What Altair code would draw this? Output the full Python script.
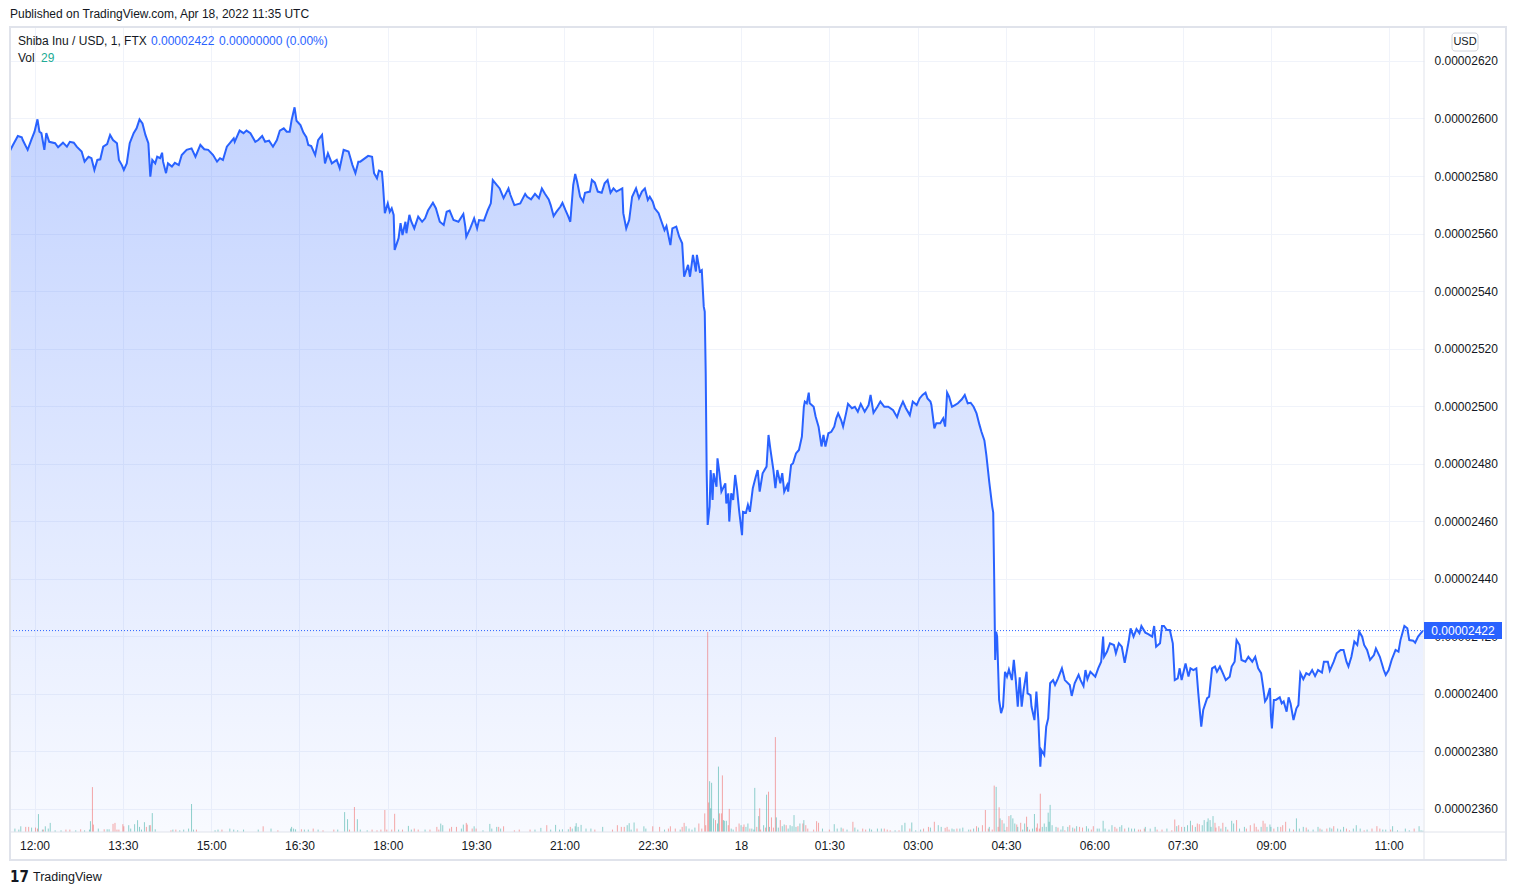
import json
import altair as alt
import pandas as pd

# ---------------------------------------------------------------
# Data
# time  = minutes elapsed since 2022-04-17 11:35 UTC (1-minute bars)
# price = close in units of 1e-8 USD (0.00002422 -> 2422)
# ---------------------------------------------------------------
SEG_A_T = [0, 3, 8, 12, 13, 18, 22, 25, 28, 30, 32, 35, 37, 40, 46, 49, 54, 58, 61, 65,
           68, 73, 76, 80, 83, 86, 89, 92, 95, 99, 102, 105, 109, 111, 114, 116, 119, 122, 126, 129,
           132, 135, 138, 141, 143, 145, 148, 150, 153, 155, 156, 159, 161, 165, 168, 172, 175, 180, 185, 189,
           194, 198, 202, 207, 211, 214, 217, 221, 224, 228, 229, 234, 238, 241, 245, 250, 253, 257, 260, 264,
           268, 272, 275, 279, 282, 285, 287, 290, 292, 296, 299, 302, 304, 307, 311, 314, 318, 321, 324, 328,
           333, 336, 340, 345, 349, 352, 355]
SEG_A_P = [2588.8, 2590.8, 2593.9, 2593.5, 2592.5, 2589.1, 2592.8, 2595.4, 2599.7, 2595.4,
           2594.9, 2589.1, 2594.9, 2591.9, 2591.4, 2590.0, 2591.6, 2590.2, 2591.9, 2591.6,
           2590.2, 2588.5, 2585.0, 2586.7, 2586.2, 2582.1, 2585.6, 2585.8, 2590.2, 2591.1,
           2594.3, 2592.5, 2591.4, 2585.6, 2583.8, 2582.1, 2584.4, 2591.4, 2594.9, 2596.6,
           2599.7, 2598.3, 2594.3, 2591.4, 2579.8, 2585.6, 2584.4, 2586.7, 2586.2, 2588.1,
           2585.0, 2581.0, 2584.4, 2583.3, 2584.6, 2583.8, 2587.3, 2589.1, 2589.6, 2586.7,
           2590.8, 2589.3, 2589.1, 2587.3, 2585.0, 2586.2, 2585.6, 2590.2, 2591.4, 2593.1,
           2591.9, 2595.8, 2594.9, 2595.8, 2594.9, 2591.9, 2592.5, 2593.9, 2591.9, 2592.3,
           2590.2, 2592.5, 2595.8, 2596.6, 2595.4, 2595.4, 2599.5, 2603.9, 2599.2, 2597.7,
           2595.1, 2593.5, 2590.8, 2590.4, 2587.3, 2592.5, 2594.3, 2584.4, 2587.9, 2584.4,
           2585.6, 2582.7, 2589.1, 2588.5, 2583.8, 2581.0, 2585.0]

SEG_B_T = [357, 365, 369, 371, 374, 376, 379, 380, 382, 385, 387, 389, 391, 392, 396, 398, 400, 403, 404, 407,
           409, 412, 416, 420, 423, 426, 431, 434, 438, 442, 445, 448, 452, 457, 462, 464, 465, 469, 473, 476,
           478, 483, 487, 490, 492, 496, 499, 503, 508, 510, 514, 520, 525, 527, 531, 535, 539, 542, 545, 549,
           551, 554, 557, 561, 563, 566, 569, 571, 574, 576, 578, 581, 584, 586, 591, 593, 596, 599, 603, 606,
           609, 612, 615, 618, 624, 625, 628, 631, 634, 638, 641, 644, 647, 650, 652, 655, 657, 661, 664, 667,
           669, 673, 675, 679, 682, 685]
SEG_B_P = [2585.0, 2587.0, 2586.7, 2581.0, 2579.2, 2581.9, 2581.5, 2577.5, 2567.1, 2570.5,
           2567.6, 2568.8, 2566.5, 2554.3, 2558.4, 2563.6, 2559.5, 2564.1, 2560.1, 2566.5,
           2564.1, 2561.8, 2565.9, 2564.1, 2565.3, 2568.0, 2570.7, 2568.8, 2564.1, 2563.0,
           2567.6, 2568.0, 2564.7, 2564.1, 2566.8, 2562.4, 2558.9, 2561.8, 2565.3, 2561.8,
           2564.7, 2564.5, 2568.2, 2570.5, 2578.6, 2576.9, 2575.7, 2572.3, 2575.7, 2573.4,
           2569.9, 2570.5, 2573.8, 2572.8, 2571.9, 2573.8, 2572.3, 2575.7, 2573.9, 2571.9,
           2569.9, 2566.1, 2567.6, 2569.4, 2570.7, 2568.2, 2565.9, 2564.1, 2576.9, 2580.7,
           2578.0, 2572.8, 2571.1, 2574.2, 2574.6, 2578.6, 2577.7, 2574.6, 2574.2, 2577.5,
           2578.6, 2574.2, 2575.7, 2574.6, 2575.7, 2567.1, 2561.8, 2564.7, 2572.8, 2575.7,
           2572.3, 2574.6, 2575.7, 2571.7, 2572.8, 2571.1, 2568.8, 2567.1, 2564.1, 2561.2,
           2562.6, 2556.0, 2561.8, 2562.4, 2558.9, 2556.6]

SEG_C_T = [687, 691, 693, 696, 699, 700, 703, 705, 707, 708, 709, 710, 711, 713, 714, 716, 717, 720, 721, 723,
           725, 729, 730, 732, 733, 735, 737, 739, 741, 743, 746, 747, 750, 752, 754, 757, 760, 762, 764, 767,
           771, 773, 775, 778, 780, 782, 785, 787, 789, 792, 793, 796, 798, 801, 804, 807, 809, 810, 812, 814,
           815, 819, 821, 824, 827, 829, 831, 834, 837, 840, 842, 844, 847, 849, 852, 854, 858, 861, 864, 867,
           871, 875, 877, 880, 884, 887, 891, 895, 900, 904, 907, 910, 913, 917, 920, 924, 927, 930, 933, 935,
           938, 939, 942, 944, 948, 951, 953, 955, 957, 960, 963, 966, 970, 973, 976, 979, 982, 985, 988, 990,
           993, 995, 998, 1001, 1002, 1003]
SEG_C_P = [2545.0, 2549.1, 2545.0, 2552.6, 2546.8, 2552.6, 2546.8, 2547.3, 2534.6, 2532.9,
           2511.4, 2476.7, 2458.7, 2465.1, 2477.8, 2467.4, 2476.7, 2472.0, 2481.9, 2476.7,
           2470.3, 2473.2, 2466.2, 2469.7, 2459.9, 2469.7, 2467.4, 2476.1, 2470.9, 2463.9,
           2455.2, 2463.3, 2463.0, 2465.7, 2463.3, 2471.5, 2475.5, 2477.8, 2470.3, 2476.7,
           2479.0, 2490.0, 2484.8, 2477.8, 2471.5, 2477.8, 2473.2, 2476.7, 2470.3, 2472.6,
           2470.3, 2479.6, 2480.2, 2483.6, 2484.8, 2489.4, 2499.8, 2501.6, 2501.0, 2504.7,
           2501.0, 2499.8, 2496.4, 2492.9, 2486.0, 2490.0, 2486.0, 2490.6, 2491.1, 2492.9,
           2495.8, 2497.5, 2495.2, 2492.9, 2497.5, 2500.8, 2499.3, 2499.8, 2498.1, 2500.8,
           2498.1, 2500.4, 2503.9, 2497.7, 2499.8, 2501.6, 2499.8, 2499.8, 2498.6, 2496.2,
           2499.3, 2501.6, 2499.3, 2496.9, 2501.6, 2500.4, 2502.7, 2503.9, 2504.7, 2502.7,
           2501.6, 2500.4, 2492.3, 2494.1, 2494.1, 2495.8, 2492.9, 2504.7, 2503.3, 2499.8,
           2500.4, 2501.0, 2502.4, 2503.9, 2501.0, 2501.2, 2499.8, 2497.5, 2493.5, 2491.1,
           2488.1, 2483.0, 2473.5, 2465.1, 2463.0, 2440.0]

SEG_D_T = [1004, 1005, 1006, 1008, 1010, 1012, 1014, 1016, 1018, 1021, 1023, 1025, 1027, 1029, 1031, 1033, 1036, 1037, 1040, 1041,
           1044, 1046, 1048, 1050, 1051, 1054, 1056, 1058, 1060, 1063, 1065, 1068, 1072, 1075, 1080, 1082, 1085, 1089, 1091, 1094,
           1096, 1098, 1101, 1106, 1109, 1112, 1114, 1115, 1118, 1121, 1125, 1127, 1130, 1133, 1136, 1140, 1142, 1145, 1148, 1151,
           1153, 1157, 1160, 1164, 1166, 1168, 1170, 1172, 1174, 1176, 1179, 1182, 1185, 1187, 1190, 1192, 1194, 1198, 1201, 1203,
           1206, 1209, 1211, 1214, 1216, 1220, 1222, 1225, 1228, 1230, 1233, 1236, 1239, 1243, 1245, 1248, 1250, 1253, 1255, 1259,
           1262, 1266, 1269, 1272, 1275, 1277, 1279, 1281, 1284, 1285, 1286, 1288, 1290, 1294, 1296, 1298, 1301, 1303, 1305, 1308,
           1311, 1313, 1315, 1318, 1321, 1324, 1327, 1330, 1333, 1337, 1339, 1343, 1345, 1349, 1352, 1356, 1359, 1362, 1364, 1367,
           1370, 1373, 1375, 1378, 1380, 1383, 1386, 1390, 1392, 1396, 1400, 1402, 1405, 1408, 1412, 1415, 1417, 1421, 1424, 1426,
           1430, 1432, 1435, 1437, 1440]
SEG_D_P = [2411.8, 2421.6, 2419.9, 2397.9, 2393.3, 2395.6, 2407.7, 2406.0, 2408.5, 2404.8,
           2411.8, 2404.8, 2395.6, 2405.8, 2395.6, 2401.4, 2407.7, 2400.2, 2399.6, 2395.6,
           2390.9, 2400.8, 2390.9, 2374.7, 2380.5, 2378.8, 2388.6, 2391.5, 2403.7, 2404.8,
           2403.1, 2405.4, 2408.9, 2404.8, 2403.1, 2399.3, 2403.7, 2406.6, 2404.8, 2402.7,
           2408.3, 2405.1, 2407.7, 2406.0, 2408.9, 2411.2, 2419.9, 2412.9, 2414.7, 2417.6,
           2417.0, 2414.1, 2417.6, 2416.4, 2410.8, 2418.2, 2422.8, 2419.9, 2422.5, 2421.1,
           2423.6, 2421.3, 2420.8, 2419.9, 2423.6, 2416.4, 2417.0, 2417.6, 2423.6, 2423.6,
           2422.2, 2422.2, 2417.6, 2404.8, 2405.4, 2408.9, 2404.8, 2410.6, 2406.0, 2408.9,
           2408.3, 2408.9, 2400.2, 2388.6, 2394.4, 2398.5, 2399.0, 2408.9, 2409.5, 2407.7,
           2409.5, 2407.2, 2404.8, 2406.0, 2409.5, 2411.2, 2418.7, 2417.0, 2411.8, 2411.2,
           2412.9, 2411.2, 2412.9, 2408.9, 2407.2, 2402.5, 2397.4, 2398.5, 2402.0, 2392.1,
           2388.0, 2397.9, 2397.9, 2398.8, 2396.7, 2397.4, 2393.8, 2398.8, 2396.7, 2390.9,
           2395.0, 2396.1, 2407.2, 2405.1, 2407.2, 2406.6, 2408.3, 2406.2, 2408.3, 2407.4,
           2411.2, 2411.2, 2408.1, 2411.2, 2414.1, 2415.3, 2415.3, 2411.2, 2409.5, 2412.9,
           2418.2, 2417.0, 2421.6, 2419.9, 2417.0, 2415.3, 2411.8, 2413.5, 2415.8, 2412.9,
           2408.3, 2406.6, 2408.3, 2411.8, 2415.3, 2414.7, 2418.7, 2423.6, 2422.8, 2418.7,
           2418.5, 2417.8, 2419.9, 2420.8, 2422.0]

# Volume (relative units), minute of bar, and direction (1 = up/teal, 0 = down/red)
VOL_A_T = [5, 9, 11, 16, 19, 22, 26, 28, 29, 33, 34, 36, 39, 41, 46, 52, 57, 61, 67, 72,
           76, 81, 82, 84, 85, 90, 96, 99, 101, 105, 107, 109, 111, 115, 116, 121, 123, 127, 130, 132,
           134, 137, 139, 142, 143, 145, 148, 164, 166, 169, 173, 177, 182, 185, 187, 190, 209, 212, 216, 224,
           228, 232, 238, 253, 258, 266, 273, 286, 287, 289, 291, 297, 300, 304, 309, 314, 319, 330, 334, 341,
           344, 346, 351, 354, 357, 364, 369, 374, 378, 382, 384, 389, 392, 396, 400, 406, 409, 412, 416, 423,
           428, 435, 437, 439, 441, 448, 450, 455, 460, 462, 465, 466, 471, 473, 475, 482, 489, 491, 496, 498,
           500, 503, 514, 519, 530, 535, 541, 547, 551, 556, 560, 563, 569, 571, 573, 576, 577, 579, 582, 587,
           592, 596, 604, 614, 619, 623, 626, 629, 631, 633, 636, 639, 646, 648, 655, 662, 667, 671, 673, 678,
           683, 685, 687, 689, 692]
VOL_A_V = [3.4, 2.4, 5.7, 5.1, 5.1, 4.4, 4.4, 3.4, 17.9, 2.4,
           2.4, 5.7, 3.4, 9.1, 1.7, 1.7, 2.4, 2.4, 1.7, 2.7,
           1.7, 2.4, 10.8, 44.9, 7.4, 3.4, 2.7, 2.7, 2.7, 8.1,
           9.1, 2.4, 2.4, 7.8, 5.7, 6.8, 3.4, 7.8, 11.8, 5.1,
           2.4, 9.8, 5.1, 6.8, 6.8, 18.9, 2.7, 1.7, 2.4, 2.4,
           1.7, 2.4, 3.4, 28.0, 2.4, 2.4, 1.7, 2.4, 2.4, 3.4,
           2.4, 1.7, 2.4, 2.4, 5.7, 3.4, 1.7, 3.4, 5.1, 3.4,
           2.7, 2.7, 2.4, 2.4, 3.4, 2.4, 1.7, 2.4, 2.4, 19.9,
           12.8, 2.4, 25.0, 12.8, 2.4, 1.7, 2.4, 1.7, 2.4, 22.0,
           2.4, 2.4, 18.2, 2.4, 2.4, 6.1, 2.4, 3.4, 2.4, 2.4,
           2.4, 5.1, 2.4, 8.4, 6.8, 3.4, 5.1, 5.1, 3.4, 7.4,
           9.1, 7.4, 3.4, 5.7, 3.4, 1.7, 8.1, 3.4, 5.1, 5.1,
           3.4, 5.7, 1.7, 2.4, 2.4, 2.4, 4.1, 6.8, 2.4, 7.1,
           2.4, 2.7, 2.7, 5.1, 3.4, 5.7, 8.8, 5.1, 7.1, 3.4,
           3.4, 2.4, 5.1, 2.4, 6.8, 5.1, 5.1, 6.8, 8.8, 2.4,
           9.5, 3.4, 5.7, 3.4, 5.7, 5.1, 2.4, 3.4, 5.7, 3.4,
           2.4, 5.1, 9.1, 5.7, 3.4]
VOL_A_UP = [1, 1, 1, 0, 0, 1, 0, 0, 1, 1,
            0, 1, 1, 1, 1, 1, 0, 0, 1, 0,
            1, 1, 1, 0, 0, 1, 0, 1, 1, 0,
            0, 0, 0, 0, 0, 1, 1, 1, 1, 1,
            1, 1, 0, 1, 0, 1, 1, 0, 1, 0,
            1, 1, 1, 1, 1, 0, 1, 1, 0, 1,
            1, 1, 1, 1, 0, 1, 0, 1, 1, 1,
            1, 0, 1, 1, 0, 1, 0, 0, 1, 1,
            1, 0, 0, 1, 1, 1, 0, 0, 0, 0,
            0, 0, 0, 1, 0, 1, 1, 0, 0, 1,
            0, 0, 0, 1, 1, 0, 0, 0, 1, 1,
            0, 0, 0, 1, 0, 1, 1, 1, 1, 0,
            1, 0, 0, 0, 0, 1, 1, 0, 1, 1,
            1, 1, 1, 0, 1, 1, 1, 1, 1, 1,
            1, 0, 1, 0, 0, 0, 0, 1, 1, 1,
            1, 0, 1, 1, 0, 0, 1, 0, 0, 0,
            1, 0, 0, 1, 1]

VOL_B_T = [695, 698, 702, 705, 708, 709, 711, 712, 713, 714,
           715, 717, 719, 721, 722, 723, 725, 726, 727, 728,
           730, 732, 733, 735, 737, 740, 743, 745, 747, 748,
           750, 752, 754, 756, 758, 759, 761, 763, 764, 765,
           768, 770, 771, 773, 774, 776, 778, 780, 781, 783,
           785, 787, 789, 791, 793, 795, 797, 799, 801, 803,
           805, 808, 809, 811, 813, 819, 822, 824, 828, 835,
           840, 843, 847, 849, 853, 859, 861, 864, 869, 872,
           876, 878, 884, 888, 891, 894, 897, 902, 906, 909,
           912, 917, 919, 923, 928, 931, 936, 938, 942, 946,
           949, 953, 955, 957, 960, 962, 965, 968, 971, 977,
           979, 982, 985, 987, 991, 994, 997, 998, 1001, 1003,
           1005, 1007, 1008, 1009, 1011, 1013, 1014, 1016, 1018, 1020,
           1022, 1024, 1026, 1027, 1030, 1032, 1034, 1036, 1037, 1039,
           1042, 1044, 1046, 1047, 1049, 1050, 1052, 1054, 1056, 1058,
           1059, 1060, 1062, 1066, 1068, 1071, 1073, 1075, 1078, 1080,
           1083, 1085, 1087, 1090, 1093, 1097, 1099, 1102, 1104, 1108,
           1110, 1114, 1116, 1120, 1123, 1126, 1128, 1131, 1133, 1136,
           1140, 1143, 1146, 1150, 1152, 1156, 1157, 1162, 1167, 1169,
           1174, 1179, 1184, 1187, 1189, 1191, 1194, 1197, 1200, 1203,
           1205, 1208, 1210, 1212, 1215, 1217, 1220, 1221, 1223, 1224,
           1226, 1228, 1229, 1232, 1234, 1236, 1239, 1241, 1245, 1247,
           1250, 1253, 1258, 1260, 1264, 1268, 1270, 1272, 1275, 1277,
           1279, 1281, 1284, 1285, 1288, 1292, 1295, 1297, 1300, 1304,
           1308, 1311, 1314, 1318, 1321, 1323, 1328, 1333, 1335, 1337,
           1342, 1345, 1347, 1349, 1353, 1356, 1359, 1362, 1365, 1369,
           1372, 1376, 1380, 1383, 1388, 1393, 1396, 1399, 1402, 1407,
           1409, 1414, 1422, 1426, 1431, 1436, 1438, 1440]
VOL_B_V = [2.4, 4.4, 8.5, 3.4, 18.6, 6.8, 200.0, 29.5, 50.8, 23.7,
           49.2, 13.6, 11.9, 8.5, 65.4, 18.6, 18.6, 56.6, 11.9, 11.2,
           11.2, 6.8, 23.1, 3.4, 2.4, 5.1, 8.5, 6.8, 5.1, 7.5,
           5.1, 8.5, 3.4, 3.4, 2.4, 44.1, 5.1, 15.9, 23.7, 2.4,
           6.8, 4.4, 37.3, 40.3, 5.1, 14.6, 4.4, 94.9, 14.6, 4.4,
           11.9, 5.8, 7.5, 6.8, 3.4, 6.8, 5.8, 16.9, 5.1, 5.8,
           8.5, 8.5, 11.9, 6.8, 3.4, 2.4, 10.8, 9.2, 3.4, 2.4,
           7.8, 3.4, 4.4, 3.4, 2.4, 10.2, 4.4, 2.4, 3.4, 2.4,
           3.4, 2.4, 3.4, 3.4, 3.4, 2.4, 1.7, 1.7, 1.7, 6.8,
           9.2, 3.4, 9.5, 1.7, 2.4, 3.4, 5.1, 4.4, 10.2, 6.8,
           5.1, 4.1, 5.1, 2.4, 3.4, 2.7, 3.4, 3.4, 4.4, 2.4,
           2.4, 3.4, 5.8, 4.4, 6.8, 22.0, 3.4, 5.1, 2.4, 46.4,
           45.1, 5.1, 24.7, 13.6, 11.9, 8.5, 1.7, 5.1, 15.9, 16.9,
           13.6, 8.5, 7.5, 5.1, 9.2, 2.4, 8.5, 15.3, 5.1, 2.4,
           3.4, 18.0, 4.4, 8.5, 3.4, 38.3, 5.1, 8.5, 5.1, 19.3,
           10.2, 27.1, 6.8, 5.1, 4.4, 2.4, 5.8, 1.7, 5.1, 6.8,
           4.4, 3.4, 5.8, 5.1, 4.4, 5.8, 3.4, 2.4, 5.8, 3.4,
           3.4, 11.2, 3.4, 2.4, 6.8, 5.1, 3.4, 5.1, 6.8, 3.4,
           4.4, 3.4, 3.4, 2.4, 2.4, 3.4, 5.1, 3.4, 5.1, 2.4,
           2.4, 3.4, 1.7, 12.5, 5.8, 6.8, 5.1, 5.1, 6.8, 11.2,
           6.8, 5.1, 8.5, 7.8, 6.8, 11.9, 10.2, 13.6, 11.9, 5.1,
           15.9, 9.2, 4.4, 5.8, 3.4, 9.2, 5.1, 2.4, 11.2, 8.5,
           11.9, 3.4, 5.1, 3.4, 6.8, 8.5, 5.1, 2.4, 5.1, 11.2,
           8.5, 5.1, 7.5, 5.1, 3.4, 5.1, 5.1, 6.8, 10.2, 3.4,
           2.4, 13.6, 3.4, 5.1, 4.4, 2.4, 2.4, 5.1, 3.4, 2.4,
           3.4, 4.4, 3.4, 5.8, 3.4, 2.4, 5.1, 3.4, 1.7, 3.4,
           6.8, 3.4, 1.7, 2.4, 3.4, 5.8, 3.4, 2.4, 2.4, 2.4,
           5.8, 1.7, 3.4, 1.7, 3.4, 5.8, 1.7, 1.4]
VOL_B_UP = [1, 1, 0, 0, 0, 0, 0, 0, 1, 1,
            1, 1, 0, 1, 1, 0, 0, 0, 1, 1,
            1, 0, 0, 1, 1, 0, 0, 1, 0, 0,
            1, 1, 0, 1, 1, 1, 0, 1, 0, 0,
            1, 0, 1, 0, 1, 0, 0, 0, 1, 1,
            0, 1, 1, 0, 1, 1, 1, 1, 1, 0,
            1, 0, 1, 0, 0, 0, 0, 0, 1, 0,
            1, 1, 1, 0, 1, 0, 1, 1, 0, 0,
            1, 1, 1, 1, 0, 0, 0, 1, 0, 1,
            1, 0, 1, 1, 1, 0, 0, 1, 0, 1,
            1, 0, 0, 0, 1, 1, 0, 1, 1, 1,
            0, 1, 0, 1, 0, 0, 0, 1, 0, 0,
            1, 0, 0, 1, 0, 1, 1, 0, 0, 1,
            1, 1, 0, 1, 0, 1, 1, 0, 1, 0,
            1, 1, 0, 0, 0, 0, 1, 1, 1, 1,
            1, 1, 1, 1, 0, 1, 1, 0, 1, 0,
            1, 0, 1, 0, 0, 1, 1, 0, 0, 1,
            1, 1, 1, 1, 1, 0, 0, 1, 1, 0,
            1, 1, 1, 0, 0, 0, 1, 1, 1, 0,
            0, 1, 0, 0, 1, 0, 0, 1, 1, 1,
            0, 1, 0, 0, 1, 1, 1, 1, 1, 1,
            1, 0, 0, 0, 1, 0, 1, 0, 1, 1,
            0, 1, 1, 0, 0, 0, 0, 0, 1, 0,
            0, 1, 1, 1, 0, 1, 0, 0, 0, 1,
            0, 1, 1, 1, 0, 1, 1, 1, 0, 1,
            0, 1, 1, 0, 1, 1, 1, 0, 0, 1,
            1, 1, 0, 1, 0, 0, 0, 1, 1, 0,
            1, 1, 1, 1, 0, 1, 1, 1]

# Axis ticks
X_TICKS = [25, 115, 205, 295, 385, 475, 565, 655, 745, 835, 925, 1015, 1105, 1195, 1285, 1405]
X_LABELS = ["12:00", "13:30", "15:00", "16:30", "18:00", "19:30", "21:00", "22:30", "18",
            "01:30", "03:00", "04:30", "06:00", "07:30", "09:00", "11:00"]
Y_TICKS = [2360, 2380, 2400, 2420, 2440, 2460, 2480, 2500, 2520, 2540, 2560, 2580, 2600, 2620]

LAST_PRICE = 2422
LAST_LABEL = "0.00002422"
CHANGE_LABEL = "0.00000000 (0.00%)"
LAST_VOL = "29"

# ---------------------------------------------------------------
price = pd.DataFrame({"t": SEG_A_T + SEG_B_T + SEG_C_T + SEG_D_T,
                      "p": SEG_A_P + SEG_B_P + SEG_C_P + SEG_D_P})
vol = pd.DataFrame({"t": VOL_A_T + VOL_B_T, "v": VOL_A_V + VOL_B_V,
                    "up": VOL_A_UP + VOL_B_UP})
vol["dir"] = vol["up"].map({1: "up", 0: "down"})

W, H = 1414, 805
X_DOMAIN = [0, 1441]
Y_DOMAIN = [2352.0, 2631.8]
V_DOMAIN = [0, 805]
FONT = "Liberation Sans"
TXT = "#131722"
BLUE = "#2962ff"
BORDER = "#e0e3eb"
GRID = "#f0f3fa"

x_enc = alt.X(
    "t:Q",
    scale=alt.Scale(domain=X_DOMAIN, nice=False, zero=False),
    axis=alt.Axis(
        values=X_TICKS,
        labelExpr=f"{json.dumps(X_LABELS)}[indexof({json.dumps(X_TICKS)}, datum.value)]",
        title=None, grid=True, gridColor=GRID, gridWidth=1,
        domain=False, ticks=False, tickSize=0,
        labelFont=FONT, labelFontSize=12, labelColor=TXT,
        labelPadding=8, labelFlush=False, labelOverlap=False,
    ),
)

y_scale = alt.Scale(domain=Y_DOMAIN, nice=False, zero=False)

area = alt.Chart(price).mark_area(
    clip=True,
    color=alt.Gradient(
        gradient="linear", x1=0, x2=0, y1=0, y2=1,
        stops=[alt.GradientStop(color="rgba(41,98,255,0.28)", offset=0),
               alt.GradientStop(color="rgba(41,98,255,0.03)", offset=1)],
    ),
).encode(x=x_enc, y=alt.Y("p:Q", scale=y_scale, axis=None), y2=alt.datum(Y_DOMAIN[0]))

vol_bars = alt.Chart(vol).mark_rule(strokeWidth=1, opacity=0.5, clip=True).encode(
    x=x_enc,
    y=alt.Y("v:Q", scale=alt.Scale(domain=V_DOMAIN, nice=False), axis=None),
    y2=alt.datum(0),
    color=alt.Color("dir:N", scale=alt.Scale(domain=["up", "down"], range=["#26a69a", "#ef5350"]),
                    legend=None),
)

line = alt.Chart(price).mark_line(color=BLUE, strokeWidth=2, clip=True).encode(
    x=x_enc,
    y=alt.Y("p:Q", scale=y_scale, axis=alt.Axis(
        orient="right", values=Y_TICKS, labelExpr="'0.0000' + datum.value",
        title=None, grid=True, gridColor=GRID, gridWidth=1,
        domain=False, ticks=False, tickSize=0,
        labelFont=FONT, labelFontSize=12, labelColor=TXT,
        labelPadding=10, labelAlign="left", labelBaseline="middle")),
)

last_df = pd.DataFrame({"p": [LAST_PRICE], "lo": [LAST_PRICE - 2.95], "hi": [LAST_PRICE + 2.95],
                        "label": [LAST_LABEL]})

last_rule = alt.Chart(last_df).mark_rule(color=BLUE, strokeWidth=1, strokeDash=[1, 2]).encode(
    y=alt.Y("p:Q", scale=y_scale, axis=None))
last_box = alt.Chart(last_df).mark_rect(color=BLUE).encode(
    x=alt.value(W), x2=alt.value(W + 78),
    y=alt.Y("lo:Q", scale=y_scale, axis=None), y2="hi:Q")
last_txt = alt.Chart(last_df).mark_text(color="white", font=FONT, fontSize=12, align="center",
                                        baseline="middle").encode(
    x=alt.value(W + 39), y=alt.Y("p:Q", scale=y_scale, axis=None), text="label:N")

dummy = pd.DataFrame({"k": [0]})


def txt(s, x, y, color=TXT, size=12, align="left", weight="normal", font=FONT):
    return alt.Chart(dummy).mark_text(color=color, fontSize=size, align=align, baseline="middle",
                                      fontWeight=weight, font=font).encode(
        x=alt.value(x), y=alt.value(y), text=alt.value(s))


frame = alt.Chart(dummy).mark_rect(fillOpacity=0, stroke=BORDER, strokeWidth=2).encode(
    x=alt.value(0), x2=alt.value(1496), y=alt.value(0), y2=alt.value(833))
vsep = alt.Chart(dummy).mark_rule(color=BORDER, strokeWidth=1).encode(
    x=alt.value(W), y=alt.value(0), y2=alt.value(833))
hsep = alt.Chart(dummy).mark_rule(color=BORDER, strokeWidth=1).encode(
    x=alt.value(0), x2=alt.value(1496), y=alt.value(H))
usd_box = alt.Chart(dummy).mark_rect(fill="white", stroke="#d1d4dc", strokeWidth=1, cornerRadius=3).encode(
    x=alt.value(1442), x2=alt.value(1468), y=alt.value(6), y2=alt.value(24))

texts = [
    txt("Published on TradingView.com, Apr 18, 2022 11:35 UTC", 0, -13),
    txt("Shiba Inu / USD, 1, FTX", 8, 14),
    txt(LAST_LABEL, 141, 14, color=BLUE),
    txt(CHANGE_LABEL, 209, 14, color=BLUE),
    txt("Vol", 8, 31),
    txt(LAST_VOL, 31, 31, color="#22ab94"),
    txt("USD", 1455, 15, size=11, align="center"),
    txt("17", 0, 850, size=15, weight="bold", font="DejaVu Sans Condensed"),
    txt("TradingView", 23, 850, size=12.5),
]

chart = alt.layer(
    area, vol_bars, line, last_rule, frame, vsep, hsep, last_box, last_txt, usd_box, *texts
).resolve_scale(y="independent").properties(
    width=W, height=H,
    padding={"left": 10, "top": 27, "right": 92, "bottom": 63},
    autosize=alt.AutoSizeParams(type="none"),
    background="white",
).configure_view(strokeWidth=0)

chart.save("out.html", embed_options={"renderer": "svg", "actions": False})
